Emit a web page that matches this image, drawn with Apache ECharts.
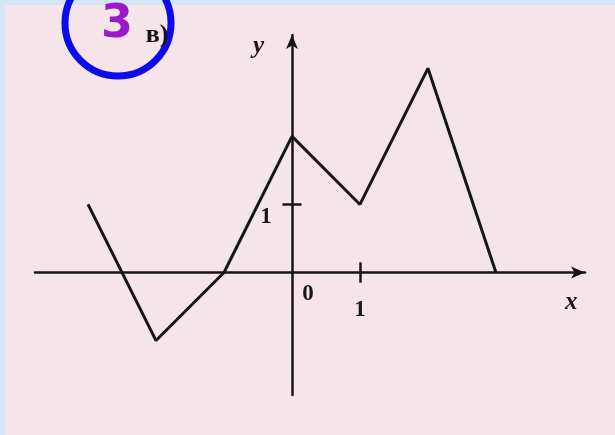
<!DOCTYPE html>
<html>
<head>
<meta charset="utf-8">
<script src="https://cdn.jsdelivr.net/npm/echarts@6/dist/echarts.min.js"></script>
<style>
  html, body { margin: 0; padding: 0; background: #f5e4ea; }
  #chart { width: 615px; height: 435px; }
</style>
</head>
<body>
<div id="chart"></div>
<script>
// graph points of the piecewise linear function
var xs = [-3, -2, -1, 0, 1, 2, 3];
var ys = [1, -1, 0, 2, 1, 3, 0];
var xTickVals = [1];
var yTickVals = [1];
var originLabel = '0';

var ink = '#161616';
var serif = 'Liberation Serif';
var labelFont = { color: ink, fontFamily: serif, fontWeight: 'bold', fontSize: 23 };

var pts = xs.map(function(x, i) { return [x, ys[i]]; });
var tickMarks = xTickVals.map(function(v) { return [{ coord: [v, -0.15] }, { coord: [v, 0.15] }]; })
  .concat(yTickVals.map(function(v) { return [{ coord: [-0.14, v] }, { coord: [0.14, v] }]; }));

function labelSeries(data, text, offset) {
  return {
    type: 'scatter', data: data, symbolSize: 0, silent: true,
    itemStyle: { opacity: 1 },
    label: Object.assign({ show: true, formatter: text, position: 'inside', offset: offset }, labelFont)
  };
}

var chart = echarts.init(document.getElementById('chart'), null, { renderer: 'canvas' });
chart.setOption({
  animation: false,
  backgroundColor: '#f5e4ea',
  grid: { left: 35, right: 30, top: 35, bottom: 40, outerBoundsMode: 'none' },
  xAxis: {
    type: 'value', min: -3.78, max: 4.31,
    axisLine: { show: true, onZero: true, symbol: ['none', 'arrow'], symbolSize: [9, 14], lineStyle: { color: ink, width: 2.5 } },
    axisTick: { show: false },
    splitLine: { show: false },
    axisLabel: { show: false },
    name: 'x', nameLocation: 'end', nameGap: -20,
    nameTextStyle: { color: ink, fontFamily: serif, fontStyle: 'italic', fontWeight: 'bold', fontSize: 25, align: 'left', verticalAlign: 'top', padding: [18, 0, 0, 0] }
  },
  yAxis: {
    type: 'value', min: -1.8, max: 3.49,
    axisLine: { show: true, onZero: true, symbol: ['none', 'arrow'], symbolSize: [9, 14], lineStyle: { color: ink, width: 2.5 } },
    axisTick: { show: false },
    splitLine: { show: false },
    axisLabel: { show: false },
    name: 'y', nameLocation: 'end', nameGap: -24,
    nameTextStyle: { color: ink, fontFamily: serif, fontStyle: 'italic', fontWeight: 'bold', fontSize: 25, align: 'right', verticalAlign: 'bottom', padding: [0, 28, 0, 0] }
  },
  graphic: [
    { type: 'rect', shape: { x: 0, y: 0, width: 615, height: 5 }, style: { fill: '#d4e5f4' } },
    { type: 'rect', shape: { x: 0, y: 0, width: 5, height: 435 }, style: { fill: '#d4e5f4' } },
    { type: 'circle', shape: { cx: 118, cy: 23, r: 53 }, style: { fill: 'none', stroke: '#0c0ce8', lineWidth: 7 } },
    { type: 'text', x: 117, y: 25, style: { text: '3', fill: '#9a1ac8', font: 'bold 46px "DejaVu Sans"', align: 'center', verticalAlign: 'middle' } },
    { type: 'text', x: 157, y: 35, style: { text: 'в)', fill: ink, font: 'bold 26px "Liberation Serif"', align: 'center', verticalAlign: 'middle' } }
  ],
  series: [
    {
      type: 'line',
      data: pts,
      symbol: 'none',
      lineStyle: { color: ink, width: 3 },
      markLine: {
        silent: true,
        symbol: 'none',
        label: { show: false },
        lineStyle: { color: ink, width: 2.5, type: 'solid' },
        data: tickMarks
      }
    },
    labelSeries([[0, 0]], originLabel, [16, 22]),
    labelSeries(xTickVals.map(function(v) { return [v, 0]; }), '{@[0]}', [0, 38]),
    labelSeries(yTickVals.map(function(v) { return [0, v]; }), '{@[1]}', [-26, 13])
  ]
});
</script>
</body>
</html>
